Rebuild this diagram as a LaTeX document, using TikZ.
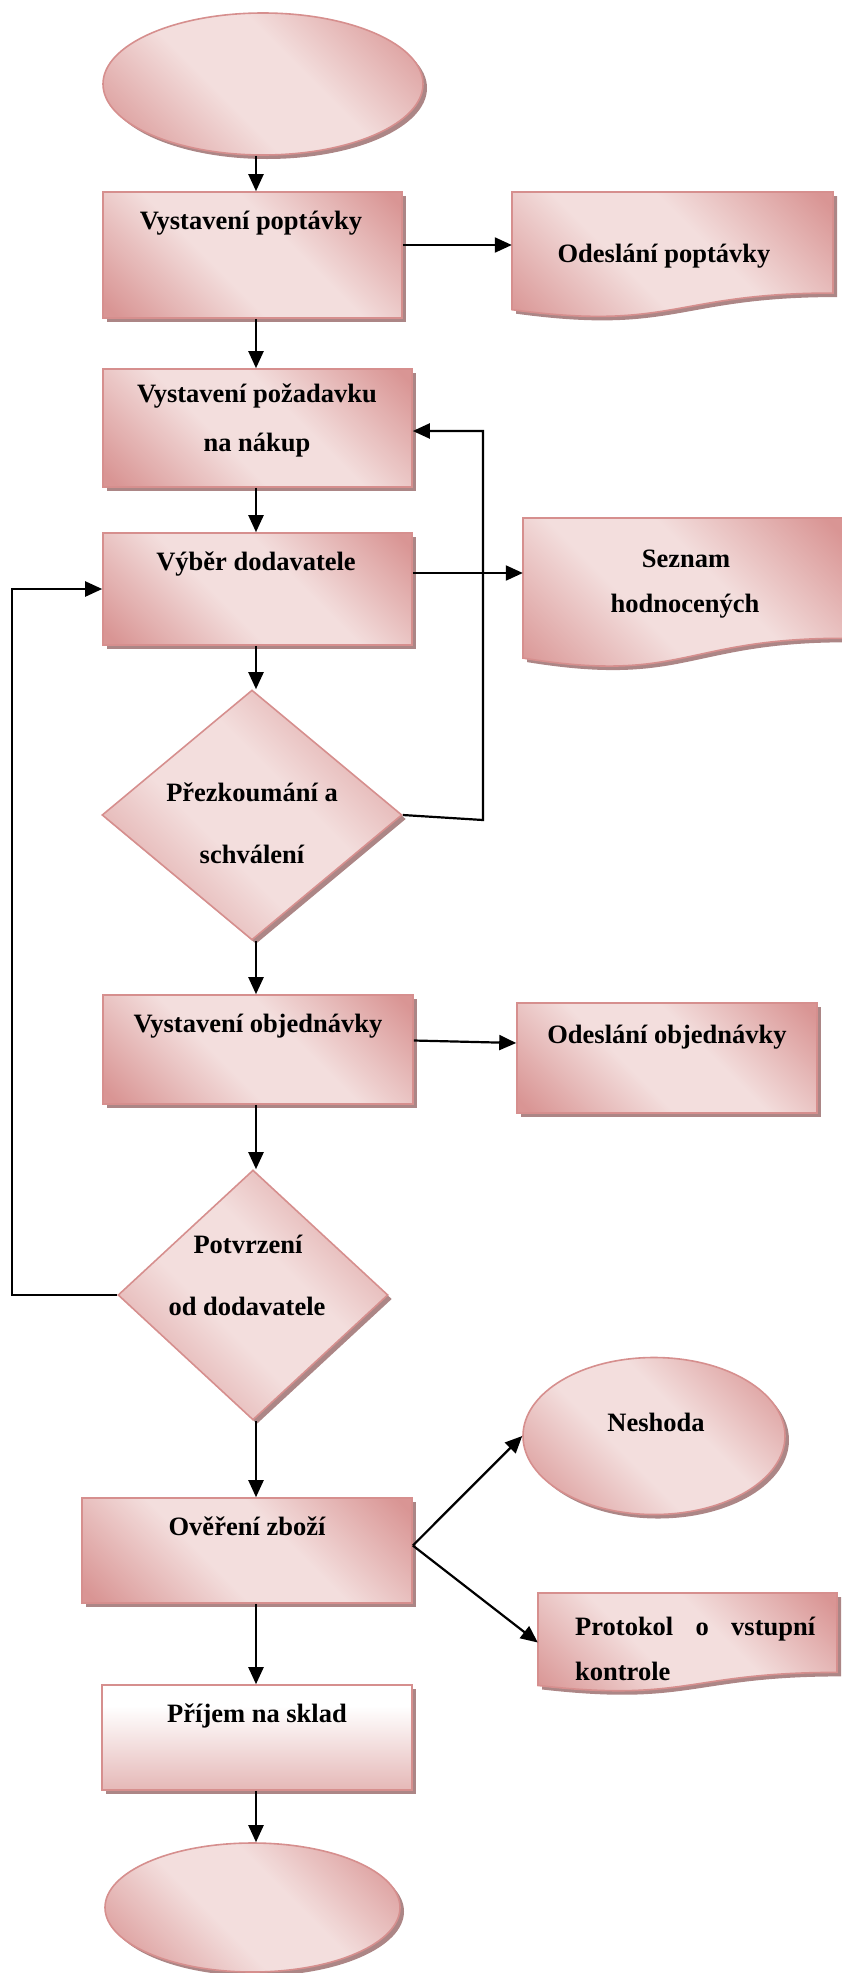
\documentclass[tikz,border=0pt]{standalone}
\usepackage{fontspec}
\setmainfont{Liberation Serif}
\usetikzlibrary{shapes.geometric,shadows,arrows.meta}
\definecolor{pdark}{RGB}{217,149,148}
\definecolor{plight}{RGB}{243,222,221}
\definecolor{pborder}{RGB}{214,143,142}
\definecolor{pshadow}{RGB}{172,134,134}
\definecolor{pbottom}{RGB}{229,184,183}
\pgfdeclarehorizontalshading{pinkdiag}{100bp}{color(0bp)=(pdark);color(17bp)=(pdark);color(42bp)=(plight);color(58bp)=(plight);color(83bp)=(pdark);color(100bp)=(pdark)}
\pgfdeclareverticalshading{pinkvert}{100bp}{color(0bp)=(pbottom);color(25bp)=(pbottom);color(65bp)=(white);color(100bp)=(white)}
\tikzset{
  shp/.style={draw=pborder, line width=1.6pt, shading=pinkdiag, shading angle=45,
    drop shadow={shadow xshift=4pt, shadow yshift=-4pt, fill=pshadow, opacity=1}},
  boxshape/.style={shp, rectangle, inner sep=0pt},
  ovalshape/.style={shp, ellipse, inner sep=0pt},
  decshape/.style={shp, diamond, inner sep=0pt},
  anchorbox/.style={rectangle, inner sep=0pt},
  txt/.style={font=\fontsize{26.5}{30}\selectfont\bfseries, anchor=base, inner sep=0pt},
  arr/.style={line width=2.2pt, -{Triangle[length=17pt,width=15pt]}},
}
\newcommand\docshape[4]{%
  \path[shp] (#1,#2) -- (#1+#3,#2) -- (#1+#3,#2+0.802*#4)
    .. controls (#1+0.5*#3,#2+0.802*#4) and (#1+0.5*#3,#2+1.107*#4) .. (#1,#2+0.934*#4) -- cycle;}
\begin{document}
\begin{tikzpicture}[x=1pt,y=-1pt]
\useasboundingbox (0,0) rectangle (841,1973);
\coordinate (sp) at (256,0);
\coordinate (fb1) at (483,820);
\coordinate (fb2) at (12,0);

% shapes
\node[ovalshape, minimum width=320pt, minimum height=142pt] (e1) at (263,84) {};
\node[boxshape, minimum width=299pt, minimum height=126pt] (b1) at (252.5,255) {};
\docshape{512}{192}{321}{126}
\node[anchorbox, minimum width=321pt, minimum height=106pt] (d1) at (672.5,245) {};
\node[boxshape, minimum width=309pt, minimum height=118pt] (b2) at (257.5,428) {};
\node[boxshape, minimum width=309pt, minimum height=112pt] (b3) at (257.5,589) {};
\docshape{523}{518}{320}{150}
\node[anchorbox, minimum width=320pt, minimum height=110pt] (d2) at (683,573) {};
\node[decshape, minimum width=300pt, minimum height=250pt] (k1) at (252,815) {};
\node[boxshape, minimum width=310pt, minimum height=109pt] (b4) at (258,1049.5) {};
\node[boxshape, minimum width=300pt, minimum height=110pt] (d3) at (667,1058) {};
\node[decshape, minimum width=270pt, minimum height=250pt] (k2) at (253,1295) {};
\node[boxshape, minimum width=330pt, minimum height=105pt] (b5) at (247,1550.5) {};
\node[ovalshape, minimum width=262pt, minimum height=157pt] (n1) at (654,1436) {};
\docshape{538}{1593}{299}{99}
\node[anchorbox, minimum width=299pt, minimum height=79pt] (d4) at (687.5,1632.5) {};
\node[boxshape, shading=pinkvert, shading angle=0, minimum width=310pt, minimum height=105pt] (b6) at (257,1737.5) {};
\node[ovalshape, minimum width=295pt, minimum height=129pt] (e2) at (252.5,1907.5) {};

% texts
\node[txt] (t1) at (251,229) {Vystavení poptávky};
\node[txt] (t2) at (664,262) {Odeslání poptávky};
\node[txt] (t3a) at (257,402) {Vystavení požadavku};
\node[txt] (t3b) at (257,451) {na nákup};
\node[txt] (t4) at (256,570) {Výběr dodavatele};
\node[txt] (t5a) at (686,567) {Seznam};
\node[txt] (t5b) at (685,612) {hodnocených};
\node[txt] (t6a) at (252,801) {Přezkoumání a};
\node[txt] (t6b) at (252,863) {schválení};
\node[txt] (t7) at (258,1032) {Vystavení objednávky};
\node[txt] (t8) at (667,1043) {Odeslání objednávky};
\node[txt] (t9a) at (248,1253) {Potvrzení};
\node[txt] (t9b) at (247,1315) {od dodavatele};
\node[txt] (t10) at (247,1535) {Ověření zboží};
\node[txt] (t11) at (656,1431) {Neshoda};
\node[txt, anchor=base west] (t12a) at (575,1635) {\makebox[240pt][s]{Protokol o vstupní}};
\node[txt, anchor=base west] (t12b) at (575,1680) {kontrole};
\node[txt] (t13) at (257,1722) {Příjem na sklad};

% connectors
\draw[arr] (e1.south -| sp) -- (b1.north -| sp);
\draw[arr] (d1.west -| b1.east) -- (d1.west);
\draw[arr] (b1.south -| sp) -- (b2.north -| sp);
\draw[arr] (b2.south -| sp) -- (b3.north -| sp);
\draw[arr] (d2.west -| b3.east) -- (d2.west);
\draw[arr] (b3.south -| sp) -- (k1.north -| sp);
\draw[arr] (k1.east) -- (fb1) |- ([yshift=-3pt]b2.east);
\draw[arr] (k1.south -| sp) -- (b4.north -| sp);
\draw[arr] ([yshift=9pt]b4.east) -- ([yshift=15pt]d3.west);
\draw[arr] (b4.south -| sp) -- (k2.north -| sp);
\draw[arr] (k2.west) -- (k2.west -| fb2) |- (b3.west);
\draw[arr] (k2.south -| sp) -- (b5.north -| sp);
\draw[arr] ([yshift=5pt]b5.east) -- (n1.west);
\draw[arr] ([yshift=5pt]b5.east) -- ([yshift=-10pt]d4.west);
\draw[arr] (b5.south -| sp) -- (b6.north -| sp);
\draw[arr] (b6.south -| sp) -- (e2.north -| sp);
\end{tikzpicture}
\end{document}
